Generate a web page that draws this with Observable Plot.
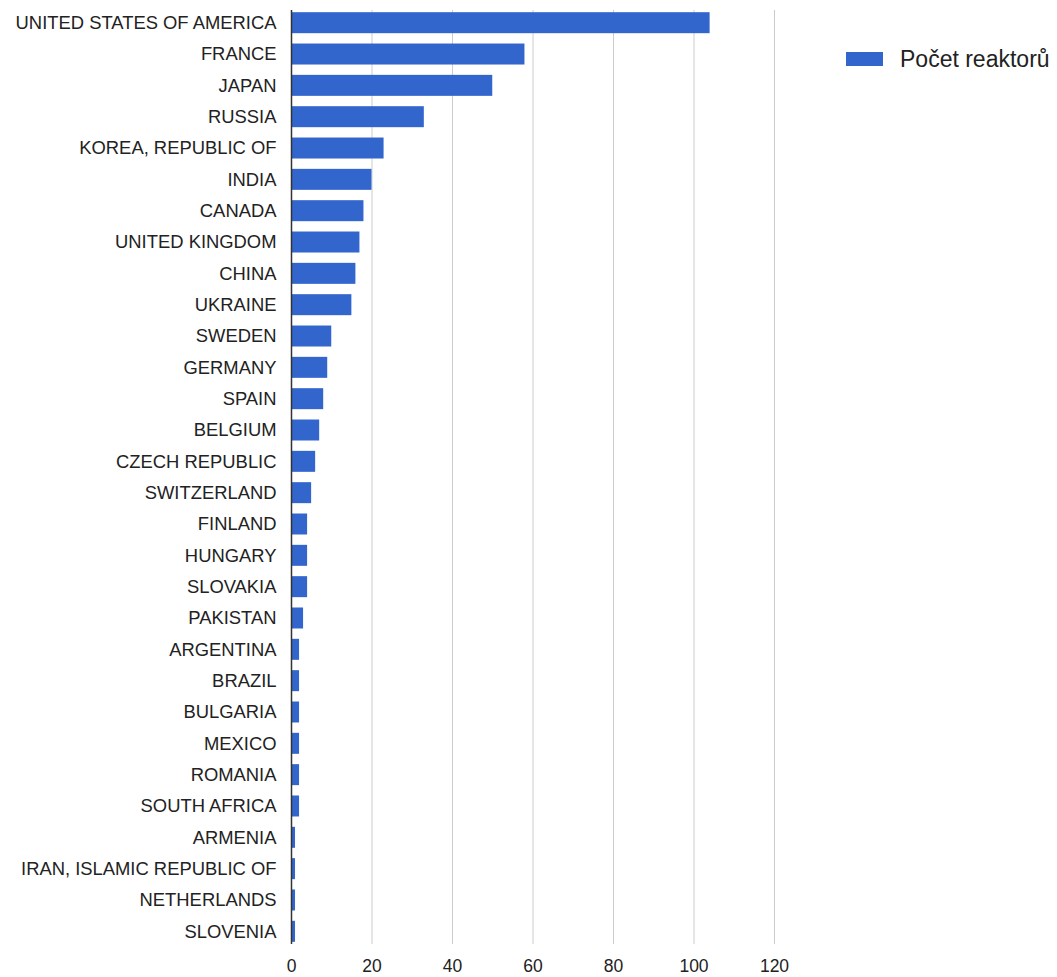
<!DOCTYPE html>
<html>
<head>
<meta charset="utf-8">
<script src="https://cdn.jsdelivr.net/npm/d3@7"></script>
<script src="https://cdn.jsdelivr.net/npm/@observablehq/plot@0.6"></script>
<style>
  html, body { margin: 0; padding: 0; background: #fff; }
  #wrap { position: relative; width: 1057px; height: 977px; }
  #legend { position: absolute; left: 846px; top: 45px; height: 28px; display: flex; align-items: center;
    font-family: "Liberation Sans", Arial, sans-serif; font-size: 23px; color: #222; white-space: nowrap; }
  #legend .sw { width: 37px; height: 14px; background: #3366cc; margin-right: 17px; }
</style>
</head>
<body>
<div id="wrap">
  <div id="chart"></div>
  <div id="legend"><div class="sw"></div><span>Počet reaktorů</span></div>
</div>
<script>
const countries = [
  "UNITED STATES OF AMERICA", "FRANCE", "JAPAN", "RUSSIA", "KOREA, REPUBLIC OF",
  "INDIA", "CANADA", "UNITED KINGDOM", "CHINA", "UKRAINE",
  "SWEDEN", "GERMANY", "SPAIN", "BELGIUM", "CZECH REPUBLIC",
  "SWITZERLAND", "FINLAND", "HUNGARY", "SLOVAKIA", "PAKISTAN",
  "ARGENTINA", "BRAZIL", "BULGARIA", "MEXICO", "ROMANIA",
  "SOUTH AFRICA", "ARMENIA", "IRAN, ISLAMIC REPUBLIC OF", "NETHERLANDS", "SLOVENIA"
];
const reactors = [
  104, 58, 50, 33, 23,
  20, 18, 17, 16, 15,
  10, 9, 8, 7, 6,
  5, 4, 4, 4, 3,
  2, 2, 2, 2, 2,
  2, 1, 1, 1, 1
];
const xTicks = [0, 20, 40, 60, 80, 100, 120];
const seriesName = "Počet reaktorů";

const data = countries.map((c, i) => ({country: c, value: reactors[i], series: seriesName}));

const chart = Plot.plot({
  width: 1057,
  height: 977,
  marginLeft: 291,
  marginRight: 283,
  marginTop: 10,
  marginBottom: 33,
  style: {fontFamily: "'Liberation Sans', Arial, sans-serif", fontSize: "18.4px", color: "#222", background: "#fff"},
  x: {domain: [0, 120]},
  y: {domain: countries, paddingInner: 0.33, paddingOuter: 0.07, round: false},
  marks: [
    Plot.gridX(xTicks.filter(t => t !== 0), {stroke: "#cccccc", strokeOpacity: 1, strokeWidth: 1}),
    Plot.barX(data, {y: "country", x: "value", fill: "#3366cc"}),
    Plot.ruleX([0], {stroke: "#333", strokeWidth: 1.5}),
    Plot.axisX(xTicks, {tickSize: 0, tickPadding: 15, label: null, fontSize: 17.5, fill: "#222"}),
    Plot.axisY({tickSize: 0, tickPadding: 15, label: null, fontSize: 18.4, fill: "#222"})
  ]
});
document.getElementById("chart").appendChild(chart);
</script>
</body>
</html>
